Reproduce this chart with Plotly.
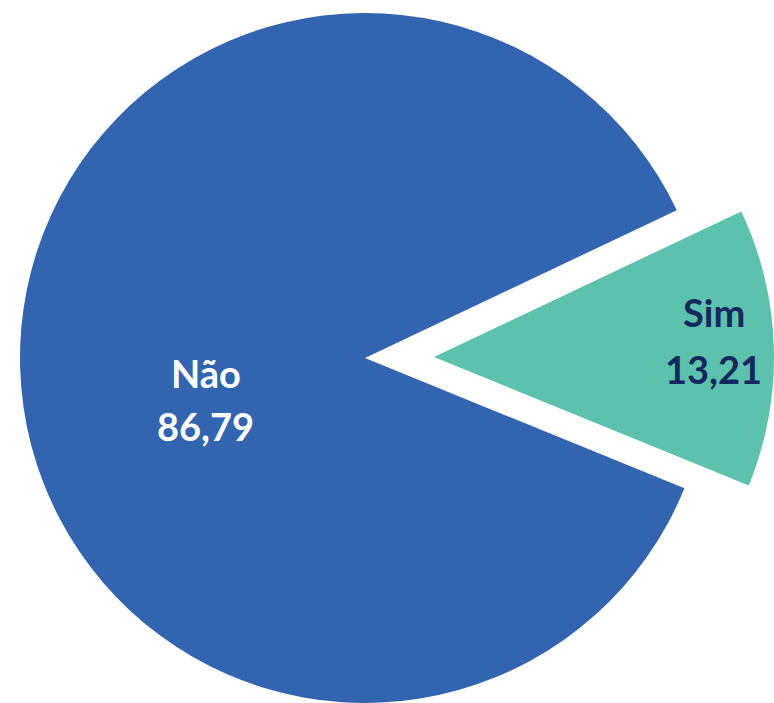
import plotly.graph_objects as go

labels = ["Não", "Sim"]
values = [86.79, 13.21]
colors = ["#3264B0", "#5CC2AE"]
text_colors = ["#FFFFFF", "#14285F"]

W, H = 774, 703
TRANSPARENT = "rgba(0,0,0,0)"

def trace(show_idx, x_dom, y_dom):
    mcols = [c if i == show_idx else TRANSPARENT for i, c in enumerate(colors)]
    return go.Pie(
        labels=labels,
        values=values,
        sort=False,
        direction="clockwise",
        rotation=112.2,
        marker=dict(colors=mcols, line=dict(width=0)),
        textinfo="none",
        hoverinfo="skip",
        showlegend=False,
        domain=dict(x=x_dom, y=y_dom),
    )

fig = go.Figure()
fig.add_trace(trace(0, [20 / W, 710 / W], [0.0, (H - 13) / H]))
fig.add_trace(trace(1, [94 / W, 1.0], [6 / H, (H - 17) / H]))

# label positions (pixel centres) for label line and value line
label_pos = [(206, 373), (714, 312)]
value_pos = [(205, 426), (713, 369)]

annotations = []
for lab, val, col, lp, vp in zip(labels, values, text_colors, label_pos, value_pos):
    for txt, (px, py) in ((lab, lp), (f"{val:.2f}".replace(".", ","), vp)):
        annotations.append(dict(
            text=txt, x=px / W, y=1 - py / H, xref="paper", yref="paper",
            xanchor="center", yanchor="middle", showarrow=False,
            font=dict(family="Lato", size=38, color=col, weight="bold"),
        ))

fig.update_layout(
    width=W,
    height=H,
    margin=dict(l=0, r=0, t=0, b=0),
    paper_bgcolor="white",
    plot_bgcolor="white",
    font=dict(family="Lato"),
    annotations=annotations,
)

fig.write_html(
    "out.html",
    config={"displayModeBar": False},
    post_script="document.body.style.margin='0';document.body.style.overflow='hidden';",
)
